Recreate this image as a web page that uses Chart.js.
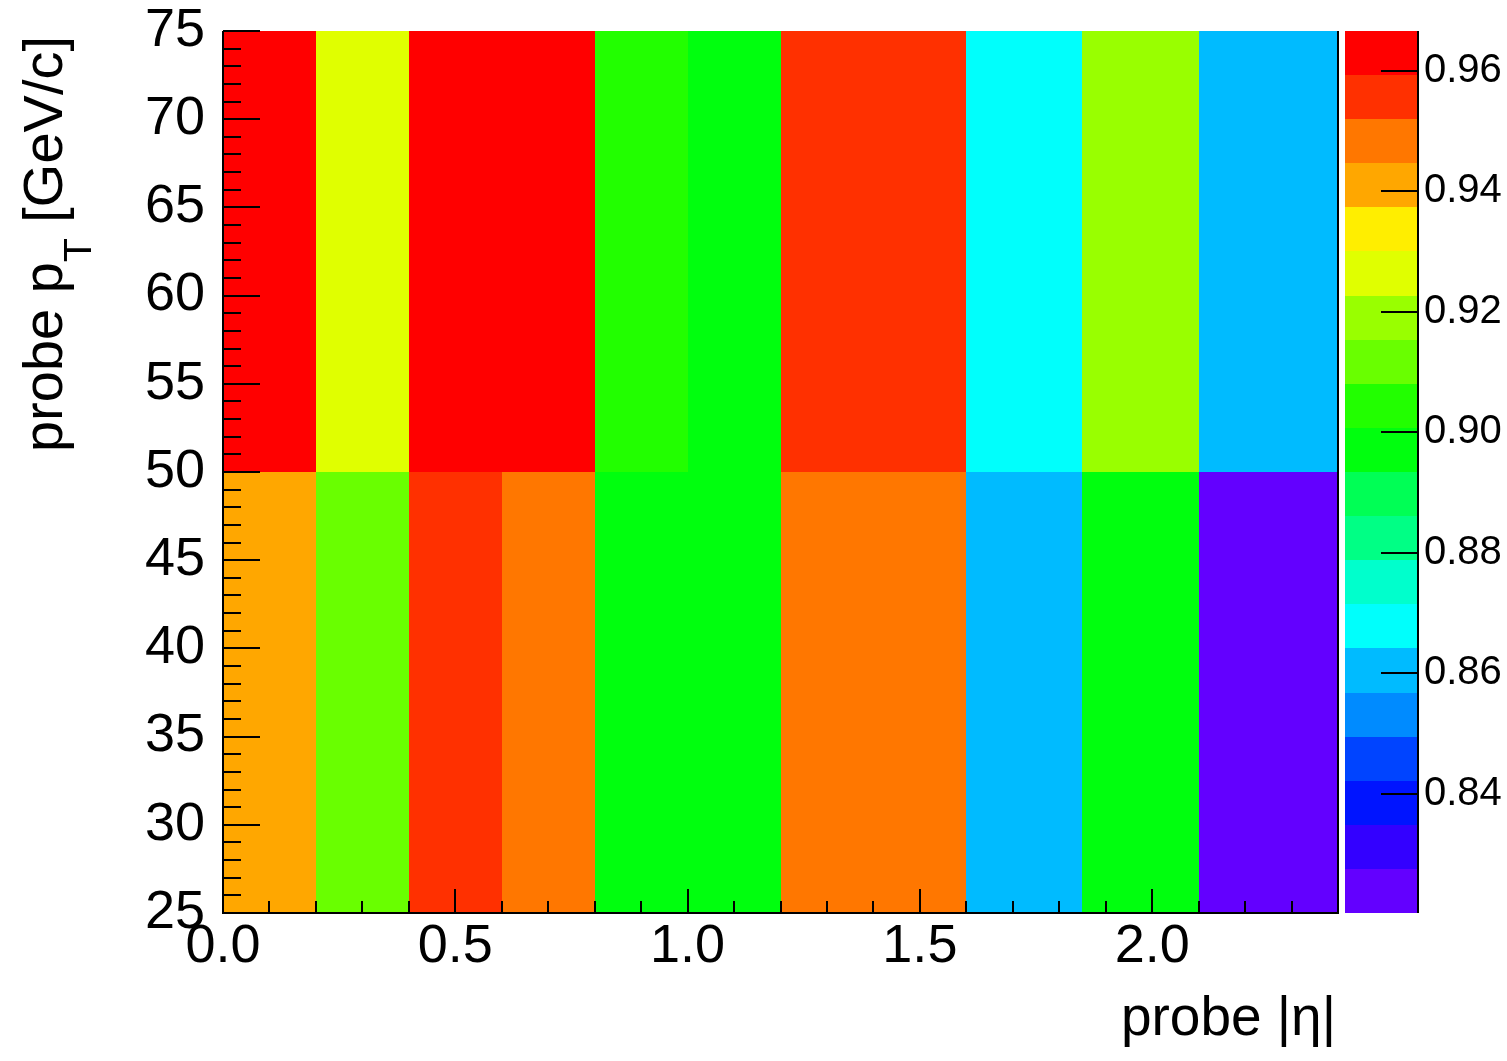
<!DOCTYPE html>
<html lang="en">
<head>
<meta charset="UTF-8">
<title>Probe efficiency vs |eta| and pT</title>
<script src="https://cdn.jsdelivr.net/npm/chart.js"></script>
<style>
  html, body { margin: 0; padding: 0; background: #fff; }
  #wrap { width: 1507px; height: 1061px; }
</style>
</head>
<body>
<div id="wrap"><canvas id="effMap" width="1507" height="1061"></canvas></div>
<script>
// bin edges of the 2D histogram
const etaEdges = [0.0, 0.2, 0.4, 0.6, 0.8, 1.0, 1.2, 1.6, 1.85, 2.1, 2.4];
const ptEdges = [25, 50, 75];

// efficiency in each |eta| bin, one list per pT bin
const effPt25to50 = [0.941, 0.911, 0.955, 0.948, 0.897, 0.896, 0.949, 0.861, 0.897, 0.8202];
const effPt50to75 = [0.9666, 0.926, 0.963, 0.962, 0.904, 0.898, 0.956, 0.868, 0.919, 0.860];
const effRows = [effPt25to50, effPt50to75];

// axis labels
const etaTicks = [0.0, 0.5, 1.0, 1.5, 2.0];
const ptTicks = [25, 30, 35, 40, 45, 50, 55, 60, 65, 70, 75];
const zTicks = [0.84, 0.86, 0.88, 0.90, 0.92, 0.94, 0.96];

const nContours = 20;
const zMin = Math.min(...effRows.flat());
const zMax = Math.max(...effRows.flat());

// "pretty" palette: 50 hues violet -> red, one picked per contour band
function bandColor(k) {
  const idx = Math.floor((k + 0.99) * 50 / nContours);
  const hue = 280 - (idx + 1) * 5.6;
  return 'hsl(' + hue + ', 100%, 50%)';
}
function valueColor(v) {
  let k = Math.floor((v - zMin) / (zMax - zMin) * nContours);
  k = Math.max(0, Math.min(nContours - 1, k));
  return bandColor(k);
}

const FONT = 'Liberation Sans, Arial, Helvetica, sans-serif';
Chart.defaults.font.family = FONT;
Chart.defaults.color = '#000';

// cells, palette bar, inner tick marks and axis titles
const effMapPlugin = {
  id: 'effMap',
  afterDraw(chart) {
    const { ctx, chartArea: a } = chart;
    const { x, y, z } = chart.scales;
    ctx.save();

    effRows.forEach((row, j) => {
      const yTop = Math.round(y.getPixelForValue(ptEdges[j + 1]));
      const yBot = Math.round(y.getPixelForValue(ptEdges[j]));
      row.forEach((v, i) => {
        const x0 = Math.round(x.getPixelForValue(etaEdges[i]));
        const x1 = Math.round(x.getPixelForValue(etaEdges[i + 1]));
        ctx.fillStyle = valueColor(v);
        ctx.fillRect(x0, yTop, x1 - x0, yBot - yTop);
      });
    });

    // palette
    const barL = Math.round(a.right) + 7;
    const barR = Math.round(a.right) + 80;
    for (let k = 0; k < nContours; k++) {
      const p0 = Math.round(z.getPixelForValue(zMin + (zMax - zMin) * k / nContours));
      const p1 = Math.round(z.getPixelForValue(zMin + (zMax - zMin) * (k + 1) / nContours));
      ctx.fillStyle = bandColor(k);
      ctx.fillRect(barL, p1, barR - barL, p0 - p1);
    }

    ctx.strokeStyle = '#000';
    ctx.lineWidth = 2;
    ctx.beginPath();
    // frame: left, bottom, right
    ctx.moveTo(a.left, a.top); ctx.lineTo(a.left, a.bottom);
    ctx.lineTo(a.right, a.bottom); ctx.lineTo(a.right, a.top);
    // palette axis
    ctx.moveTo(barR, a.top); ctx.lineTo(barR, a.bottom);
    zTicks.forEach(v => {
      const p = Math.round(z.getPixelForValue(v));
      ctx.moveTo(barR - 37, p); ctx.lineTo(barR, p);
    });
    // |eta| ticks: every 0.1, long every 0.5
    for (let i = 1; i <= 24; i++) {
      const px = Math.round(x.getPixelForValue(i / 10));
      const len = i % 5 === 0 ? 24 : 12;
      ctx.moveTo(px, a.bottom); ctx.lineTo(px, a.bottom - len);
    }
    // pT ticks: every 1 GeV, long every 5
    for (let v = 26; v <= 75; v++) {
      const py = Math.round(y.getPixelForValue(v));
      const len = v % 5 === 0 ? 37 : 18;
      ctx.moveTo(a.left, py); ctx.lineTo(a.left + len, py);
    }
    ctx.stroke();

    // axis titles
    ctx.fillStyle = '#000';
    ctx.textBaseline = 'alphabetic';
    ctx.font = '55px ' + FONT;
    ctx.textAlign = 'right';
    ctx.fillText('probe |η|', a.right - 2, 1035);

    ctx.translate(62, a.top + 5);
    ctx.rotate(-Math.PI / 2);
    ctx.textAlign = 'left';
    const big = '56px ' + FONT, small = '39px ' + FONT;
    ctx.font = big;
    const w1 = ctx.measureText('probe p').width;
    const w3 = ctx.measureText(' [GeV/c]').width;
    ctx.font = small;
    const w2 = ctx.measureText('T').width;
    let s = -(w1 + w2 + w3);
    ctx.font = big;
    ctx.fillText('probe p', s, 0);
    ctx.font = small;
    ctx.fillText('T', s + w1, 29);
    ctx.font = big;
    ctx.fillText(' [GeV/c]', s + w1 + w2, 0);
    ctx.restore();
  }
};

function fixedTicks(list) {
  return scale => { scale.ticks = list.map(v => ({ value: v })); };
}
// fixed axis box size, with no extra room reserved for overhanging labels
function fixedBox(width, height) {
  return scale => {
    if (width) scale.width = width;
    if (height) scale.height = height;
    scale.paddingTop = scale.paddingBottom = scale.paddingLeft = scale.paddingRight = 0;
  };
}

new Chart(document.getElementById('effMap'), {
  type: 'scatter',
  data: { datasets: [] },
  options: {
    responsive: false,
    animation: false,
    layout: { padding: { top: 31, left: 0, right: 0, bottom: 0 } },
    plugins: { legend: { display: false }, tooltip: { enabled: false } },
    scales: {
      x: {
        type: 'linear', position: 'bottom', min: 0, max: 2.4,
        afterBuildTicks: fixedTicks(etaTicks),
        afterFit: fixedBox(0, 148),
        grid: { display: false, drawTicks: false },
        border: { display: false },
        ticks: {
          font: { size: 54, lineHeight: 1 }, padding: 7,
          maxRotation: 0, autoSkip: false,
          callback: v => v.toFixed(1)
        }
      },
      y: {
        type: 'linear', position: 'left', min: 25, max: 75,
        afterBuildTicks: fixedTicks(ptTicks),
        afterFit: fixedBox(223, 0),
        grid: { display: false, drawTicks: false },
        border: { display: false },
        ticks: {
          font: { size: 54, lineHeight: 1 }, padding: 18, autoSkip: false,
          callback: v => String(v)
        }
      },
      z: {
        type: 'linear', position: 'right', min: zMin, max: zMax,
        afterBuildTicks: fixedTicks(zTicks),
        afterFit: fixedBox(169, 0),
        grid: { display: false, drawTicks: false },
        border: { display: false },
        ticks: {
          font: { size: 40, lineHeight: 1 }, padding: 86, autoSkip: false,
          callback: v => v.toFixed(2)
        }
      }
    }
  },
  plugins: [effMapPlugin]
});
</script>
</body>
</html>
